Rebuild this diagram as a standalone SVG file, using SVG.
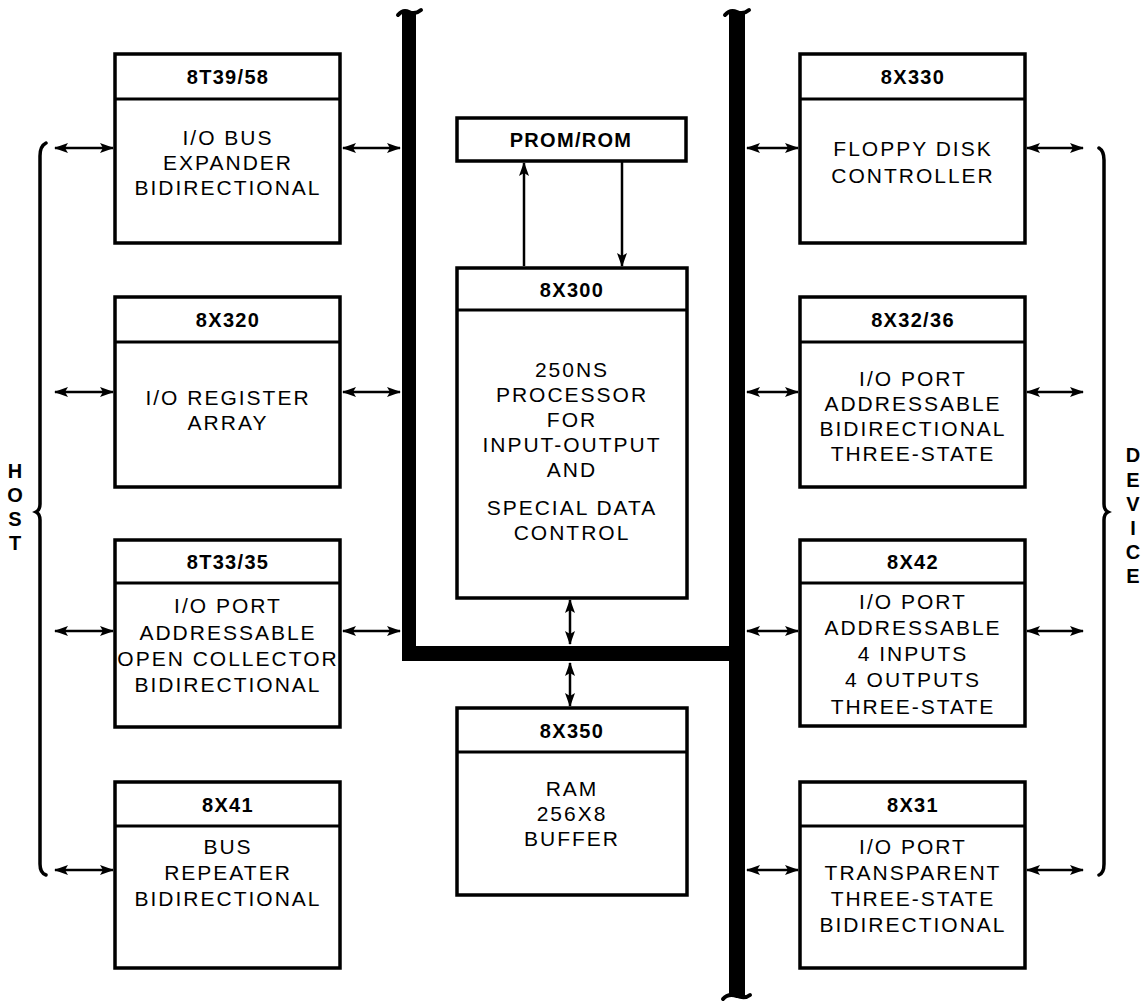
<svg xmlns="http://www.w3.org/2000/svg" width="1146" height="1004" viewBox="0 0 1146 1004">
<defs>
<marker id="ah" viewBox="0 0 14 10" refX="13" refY="5" markerWidth="14" markerHeight="10" markerUnits="userSpaceOnUse" orient="auto-start-reverse">
<path d="M0,0 L14,5 L0,10 L3,5 Z" fill="#000"/>
</marker>
<style>
.box{fill:#fff;stroke:#000;stroke-width:3.5}
.div{stroke:#000;stroke-width:3}
.hd{font-family:"Liberation Sans",Arial,sans-serif;font-weight:bold;font-size:20px;letter-spacing:1.3px;text-anchor:middle;fill:#000}
.bd{font-family:"Liberation Sans",Arial,sans-serif;font-size:21px;letter-spacing:2px;text-anchor:middle;fill:#000}
.lb{font-family:"Liberation Sans",Arial,sans-serif;font-weight:bold;font-size:20px;text-anchor:middle;fill:#000}
.ar{stroke:#000;stroke-width:2.5;fill:none;marker-start:url(#ah);marker-end:url(#ah)}
.ar1{stroke:#000;stroke-width:2.5;fill:none;marker-end:url(#ah)}
.bus{fill:#000}
.cap{fill:none;stroke:#000;stroke-width:4;stroke-linecap:round}
.brace{fill:none;stroke:#000;stroke-width:3.5;stroke-linecap:round}
</style>
</defs>
<rect width="1146" height="1004" fill="#fff"/>

<!-- buses -->
<g id="buses">
<path class="bus" d="M402,13 L416,13 L416,646 L729,646 L729,13 L745,13 L745,996 L729,996 L729,661 L402,661 Z"/>
<path class="cap" d="M398,15 Q403,9 409,12 Q415,15 421,10"/>
<path class="cap" d="M725,15 Q730,9 737,12 Q743,15 749,10"/>
<path class="cap" d="M723,999 Q728,993 737,996 Q745,999 750,995"/>
</g>

<!-- braces and labels -->
<g id="host">
<path class="brace" d="M46,143 Q40,146 40,156 L40,504 Q40,510 36,512 Q40,514 40,520 L40,864 Q40,873 46,875"/>
<text class="lb" x="15" y="478">H</text>
<text class="lb" x="15" y="502">O</text>
<text class="lb" x="15" y="526">S</text>
<text class="lb" x="15" y="550">T</text>
</g>
<g id="device">
<path class="brace" d="M1099,148 Q1104,151 1104,160 L1104,504 Q1104,510 1108,512 Q1104,514 1104,520 L1104,864 Q1104,873 1099,875"/>
<text class="lb" x="1133" y="462">D</text>
<text class="lb" x="1133" y="487">E</text>
<text class="lb" x="1133" y="511">V</text>
<text class="lb" x="1133" y="535">I</text>
<text class="lb" x="1133" y="559">C</text>
<text class="lb" x="1133" y="583">E</text>
</g>

<!-- left column -->
<g id="n8t39">
<rect class="box" x="115" y="54" width="225" height="189"/>
<line class="div" x1="115" y1="99" x2="340" y2="99"/>
<text class="hd" x="228" y="84">8T39/58</text>
<text class="bd" x="228" y="145">I/O BUS</text>
<text class="bd" x="228" y="170">EXPANDER</text>
<text class="bd" x="228" y="195">BIDIRECTIONAL</text>
</g>
<g id="n8x320">
<rect class="box" x="115" y="297" width="225" height="190"/>
<line class="div" x1="115" y1="342" x2="340" y2="342"/>
<text class="hd" x="228" y="327">8X320</text>
<text class="bd" x="228" y="405">I/O REGISTER</text>
<text class="bd" x="228" y="430">ARRAY</text>
</g>
<g id="n8t33">
<rect class="box" x="115" y="540" width="225" height="187"/>
<line class="div" x1="115" y1="583" x2="340" y2="583"/>
<text class="hd" x="228" y="569">8T33/35</text>
<text class="bd" x="228" y="613">I/O PORT</text>
<text class="bd" x="228" y="640">ADDRESSABLE</text>
<text class="bd" x="228" y="666">OPEN COLLECTOR</text>
<text class="bd" x="228" y="692">BIDIRECTIONAL</text>
</g>
<g id="n8x41">
<rect class="box" x="115" y="782" width="225" height="186"/>
<line class="div" x1="115" y1="826" x2="340" y2="826"/>
<text class="hd" x="228" y="812">8X41</text>
<text class="bd" x="228" y="854">BUS</text>
<text class="bd" x="228" y="880">REPEATER</text>
<text class="bd" x="228" y="906">BIDIRECTIONAL</text>
</g>

<!-- middle -->
<g id="prom">
<rect class="box" x="457" y="118" width="229" height="43"/>
<text class="hd" x="571" y="147">PROM/ROM</text>
</g>
<g id="n8x300">
<rect class="box" x="457" y="268" width="230" height="330"/>
<line class="div" x1="457" y1="310" x2="687" y2="310"/>
<text class="hd" x="572" y="297">8X300</text>
<text class="bd" x="572" y="377">250NS</text>
<text class="bd" x="572" y="402">PROCESSOR</text>
<text class="bd" x="572" y="427">FOR</text>
<text class="bd" x="572" y="452">INPUT-OUTPUT</text>
<text class="bd" x="572" y="477">AND</text>
<text class="bd" x="572" y="515">SPECIAL DATA</text>
<text class="bd" x="572" y="540">CONTROL</text>
</g>
<g id="n8x350">
<rect class="box" x="457" y="708" width="230" height="187"/>
<line class="div" x1="457" y1="752" x2="687" y2="752"/>
<text class="hd" x="572" y="738">8X350</text>
<text class="bd" x="572" y="796">RAM</text>
<text class="bd" x="572" y="821">256X8</text>
<text class="bd" x="572" y="846">BUFFER</text>
</g>

<!-- right column -->
<g id="n8x330">
<rect class="box" x="800" y="54" width="225" height="189"/>
<line class="div" x1="800" y1="99" x2="1025" y2="99"/>
<text class="hd" x="913" y="84">8X330</text>
<text class="bd" x="913" y="156">FLOPPY DISK</text>
<text class="bd" x="913" y="183">CONTROLLER</text>
</g>
<g id="n8x32">
<rect class="box" x="800" y="297" width="225" height="190"/>
<line class="div" x1="800" y1="342" x2="1025" y2="342"/>
<text class="hd" x="913" y="327">8X32/36</text>
<text class="bd" x="913" y="386">I/O PORT</text>
<text class="bd" x="913" y="411">ADDRESSABLE</text>
<text class="bd" x="913" y="436">BIDIRECTIONAL</text>
<text class="bd" x="913" y="461">THREE-STATE</text>
</g>
<g id="n8x42">
<rect class="box" x="800" y="540" width="225" height="186"/>
<line class="div" x1="800" y1="583" x2="1025" y2="583"/>
<text class="hd" x="913" y="569">8X42</text>
<text class="bd" x="913" y="609">I/O PORT</text>
<text class="bd" x="913" y="635">ADDRESSABLE</text>
<text class="bd" x="913" y="661">4 INPUTS</text>
<text class="bd" x="913" y="687">4 OUTPUTS</text>
<text class="bd" x="913" y="714">THREE-STATE</text>
</g>
<g id="n8x31">
<rect class="box" x="800" y="782" width="225" height="186"/>
<line class="div" x1="800" y1="826" x2="1025" y2="826"/>
<text class="hd" x="913" y="812">8X31</text>
<text class="bd" x="913" y="854">I/O PORT</text>
<text class="bd" x="913" y="880">TRANSPARENT</text>
<text class="bd" x="913" y="906">THREE-STATE</text>
<text class="bd" x="913" y="932">BIDIRECTIONAL</text>
</g>

<!-- connectors -->
<g id="connectors">
<line class="ar" x1="55" y1="148" x2="113" y2="148"/>
<line class="ar" x1="343" y1="148" x2="400" y2="148"/>
<line class="ar" x1="55" y1="392" x2="113" y2="392"/>
<line class="ar" x1="343" y1="392" x2="400" y2="392"/>
<line class="ar" x1="55" y1="631" x2="113" y2="631"/>
<line class="ar" x1="343" y1="631" x2="400" y2="631"/>
<line class="ar" x1="55" y1="870" x2="113" y2="870"/>

<line class="ar" x1="747" y1="148" x2="798" y2="148"/>
<line class="ar" x1="1027" y1="148" x2="1083" y2="148"/>
<line class="ar" x1="747" y1="392" x2="798" y2="392"/>
<line class="ar" x1="1027" y1="392" x2="1083" y2="392"/>
<line class="ar" x1="747" y1="631" x2="798" y2="631"/>
<line class="ar" x1="1027" y1="631" x2="1083" y2="631"/>
<line class="ar" x1="747" y1="870" x2="798" y2="870"/>
<line class="ar" x1="1027" y1="870" x2="1083" y2="870"/>

<line class="ar1" x1="524" y1="266" x2="524" y2="163"/>
<line class="ar1" x1="622" y1="161" x2="622" y2="266"/>
<line class="ar" x1="570" y1="600" x2="570" y2="644"/>
<line class="ar" x1="570" y1="663" x2="570" y2="706"/>
</g>
</svg>
